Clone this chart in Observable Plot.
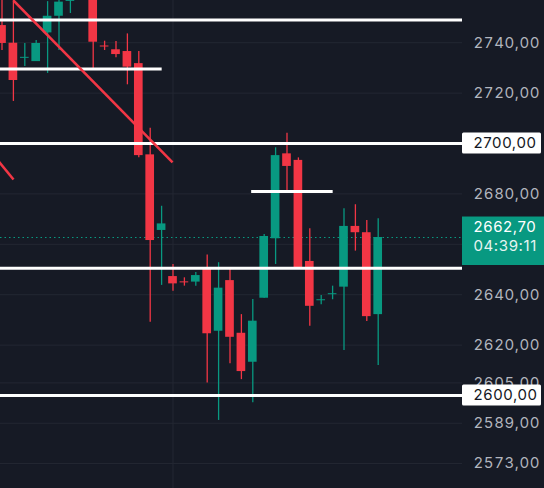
<!DOCTYPE html>
<html><head><meta charset="utf-8">
<script src="https://cdn.jsdelivr.net/npm/d3@7"></script>
<script src="https://cdn.jsdelivr.net/npm/@observablehq/plot@0.6"></script>
<style>
html,body{margin:0;padding:0;background:#161a25;}
#chart svg{display:block}
#chart text{letter-spacing:0.6px}
</style></head><body><div id="chart"></div>
<script>
// Candle data (index 0..33, left to right)
const opens  = [2746.8, 2739.8, 2733.8, 2732.5, 2743.9, 2750.5, 2756.4, 2758.0, 2762.0, 2738.7, 2737.2, 2736.5, 2731.7, 2695.5, 2665.5, 2647.2, 2645.1, 2645.0, 2650.5, 2625.5, 2645.6, 2624.7, 2613.2, 2638.6, 2662.2, 2695.9, 2693.3, 2653.2, 2637.6, 2640.0, 2643.0, 2667.1, 2664.6, 2632.1];
const closes = [2739.7, 2725.0, 2734.2, 2739.7, 2750.5, 2756.1, 2757.6, 2764.0, 2740.2, 2738.3, 2735.3, 2730.3, 2695.2, 2661.5, 2668.1, 2644.3, 2644.7, 2647.6, 2624.5, 2642.6, 2623.1, 2609.5, 2629.5, 2663.1, 2695.2, 2690.9, 2650.7, 2635.4, 2638.0, 2640.4, 2667.1, 2664.6, 2631.3, 2662.7];
const highs  = [2759.0, 2758.0, 2739.7, 2740.9, 2756.3, 2758.0, 2760.0, 2766.0, 2766.0, 2740.6, 2740.5, 2743.5, 2736.5, 2706.1, 2675.1, 2652.0, 2646.7, 2648.8, 2655.8, 2652.7, 2650.3, 2632.1, 2638.1, 2663.9, 2698.3, 2704.1, 2694.3, 2666.2, 2639.7, 2643.4, 2674.1, 2675.7, 2669.4, 2670.1];
const lows   = [2736.9, 2716.7, 2730.6, 2732.5, 2727.8, 2736.9, 2751.6, 2757.0, 2729.4, 2736.9, 2734.0, 2723.3, 2694.3, 2629.1, 2643.7, 2641.4, 2643.4, 2643.4, 2605.0, 2590.1, 2612.6, 2606.3, 2597.1, 2638.6, 2652.0, 2681.3, 2650.7, 2627.5, 2636.0, 2638.0, 2617.9, 2657.3, 2629.4, 2611.9];

// Axis ticks
const gridTicks  = [2740, 2720, 2700, 2680, 2660, 2640, 2620, 2605, 2600, 2589, 2573];
const labelTicks = [2740, 2720, 2680, 2640, 2620, 2605, 2589, 2573];
const boxedLevels = [2700, 2600];
const lastPrice = 2662.70;
const countdown = "04:39:11";

// Drawn horizontal levels
const fullLevels = [2749.0, 2700, 2650.5, 2600];
const shortLevelPrices = [2729.6, 2681.0];
const shortLevelFrom   = [-0.2, 21.9];
const shortLevelTo     = [14.05, 29.05];

// Trend lines (x in candle index, y in price)
const trendX1 = [1.01, -0.3];
const trendY1 = [2756.75, 2693.0];
const trendX2 = [14.96, 1.01];
const trendY2 = [2692.5, 2685.7];

const UP = "#089981", DOWN = "#f23645", BG = "#161a25", GRID = "#232733";
const fmt = v => d3.format(".2f")(v).replace(".", ",");

const candles = opens.map((o, i) => ({i, open: o, close: closes[i], high: highs[i], low: lows[i]}));
const shortLevels = shortLevelPrices.map((p, k) => ({price: p, from: shortLevelFrom[k], to: shortLevelTo[k]}));
const trends = trendX1.map((x, k) => ({x1: x, y1: trendY1[k], x2: trendX2[k], y2: trendY2[k]}));
const col = d => d.close >= d.open ? UP : DOWN;

// x layout: candle step 11.4px, plot frame 0..462px, axis panel on the right
const X0 = -0.1316, X1 = 40.395, STEP = 11.4;
const panelLeft = X1, panelRight = X1 + 79 / STEP, panelEdge = X1 + 82 / STEP, labelX = X1 + 11 / STEP;

const chart = Plot.plot({
  width: 544, height: 488,
  marginLeft: 0, marginRight: 82, marginTop: 0, marginBottom: 0,
  style: {background: BG, fontFamily: "Inter, 'Noto Sans', sans-serif", fontSize: "15px", overflow: "visible"},
  x: {domain: [X0, X1], axis: null},
  y: {domain: [2563.1, 2756.75], axis: null},
  color: {type: "identity"},
  marks: [
    Plot.gridY(gridTicks, {stroke: GRID, strokeOpacity: 1, strokeWidth: 1}),
    Plot.gridX([15], {stroke: GRID, strokeOpacity: 1, strokeWidth: 1}),
    Plot.ruleY([lastPrice], {stroke: UP, strokeWidth: 1.2, strokeDasharray: "1.5,3"}),
    Plot.ruleX(candles, {x: "i", y1: "low", y2: "high", stroke: col, strokeWidth: 1.3, clip: true}),
    Plot.rect(candles, {x1: d => d.i - 0.38, x2: d => d.i + 0.38,
      y1: d => Math.min(d.open, d.close), y2: d => Math.max(d.open, d.close),
      fill: col, clip: true}),
    Plot.ruleY(fullLevels, {stroke: "#ffffff", strokeWidth: 3}),
    Plot.ruleY(shortLevels, {y: "price", x1: "from", x2: "to", stroke: "#ffffff", strokeWidth: 3, clip: true}),
    Plot.link(trends, {x1: "x1", y1: "y1", x2: "x2", y2: "y2", stroke: DOWN, strokeWidth: 2.5, clip: true}),
    Plot.axisY(labelTicks, {anchor: "right", tickSize: 0, tickPadding: 11, tickFormat: fmt, fill: "#b2b5be", fontSize: 15}),
    // boxed price labels
    Plot.rect(boxedLevels, {x1: panelLeft, x2: panelRight, y1: d => d, y2: d => d, insetTop: -10.5, insetBottom: -10.5, fill: "#ffffff", rx: 1.5}),
    Plot.text(boxedLevels, {x: labelX, y: d => d, text: fmt, textAnchor: "start", fill: "#131722", fontSize: 15}),
    Plot.rect([lastPrice], {x1: panelLeft, x2: panelEdge, y1: d => d, y2: d => d, insetTop: -20.5, insetBottom: -28, fill: UP}),
    Plot.text([lastPrice], {x: labelX, y: d => d, dy: -10, text: fmt, textAnchor: "start", fill: "#ffffff", fontSize: 15}),
    Plot.text([lastPrice], {x: labelX, y: d => d, dy: 9, text: () => countdown, textAnchor: "start", fill: "#e6f4f1", fontSize: 15})
  ]
});
document.getElementById("chart").append(chart);
</script></body></html>
